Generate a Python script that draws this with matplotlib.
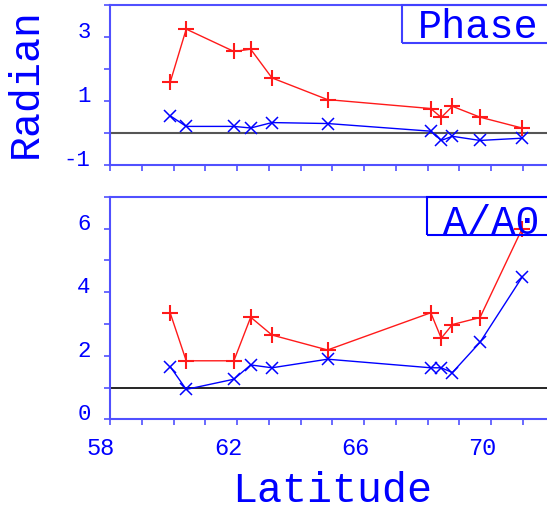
import matplotlib
matplotlib.use("Agg")
import matplotlib.pyplot as plt
import matplotlib.transforms as mtransforms
from matplotlib.patches import Rectangle

# Latitude of each station
latitude = [59.9, 60.4, 61.9, 62.43, 63.1, 64.85, 68.1, 68.43, 68.78, 69.65, 70.97]

# Phase (radian)
phase_red = [1.61, 3.26, 2.56, 2.63, 1.73, 1.05, 0.77, 0.49, 0.84, 0.50, 0.16]
phase_blue = [0.54, 0.21, 0.21, 0.16, 0.33, 0.30, 0.06, -0.23, -0.10, -0.23, -0.16]

# Amplitude ratio A/A0
amp_red = [3.33, 1.84, 1.84, 3.21, 2.65, 2.18, 3.35, 2.55, 2.98, 3.20, 5.98]
amp_blue = [1.65, 0.94, 1.26, 1.71, 1.62, 1.89, 1.62, 1.62, 1.47, 2.42, 4.46]

x_ticks = list(range(58, 72))
x_labels = ["58", "62", "66", "70"]

plt.rcParams["font.family"] = ["Liberation Mono", "DejaVu Sans Mono"]

W, H = 547, 511
fig = plt.figure(figsize=(W / 100, H / 100), dpi=100)

spine_col = "#5050ff"
text_col = "#0000ff"
red = "#ff1a1a"
blue = "#0000ff"


def px(x0, y0, x1, y1):
    # pixel box (top-left origin) -> figure fraction rect
    return [x0 / W, 1 - y1 / H, (x1 - x0) / W, (y1 - y0) / H]


ax1 = fig.add_axes(px(110, 5.5, 547, 165))
ax2 = fig.add_axes(px(110, 196.7, 547, 419.3))


def style(ax, ylo, yhi, ylab):
    ax.set_xlim(58, 71.76)
    ax.set_ylim(ylo, yhi)
    for s in ["left", "bottom", "top"]:
        ax.spines[s].set_color(spine_col)
        ax.spines[s].set_linewidth(1.5)
    ax.spines["right"].set_visible(False)
    ax.set_xticks(x_ticks)
    ax.set_yticks(list(range(ylo, yhi + 1)))
    ax.set_yticklabels([str(v) if v in ylab else "" for v in range(ylo, yhi + 1)])
    ax.tick_params(axis="both", direction="out", length=4, width=1.2,
                   color=spine_col, labelcolor=text_col)
    ax.tick_params(axis="y", labelsize=16, pad=10)
    # labels in the original sit a little above their ticks
    shift = mtransforms.ScaledTranslation(0, 7 / 100, fig.dpi_scale_trans)
    for lab in ax.get_yticklabels():
        lab.set_transform(lab.get_transform() + shift)


style(ax1, -1, 4, [-1, 1, 3])
style(ax2, 0, 7, [0, 2, 4, 6])
ax1.set_xticklabels([])
ax2.set_xticklabels([str(v) if str(v) in x_labels else "" for v in x_ticks])
ax2.tick_params(axis="x", labelsize=17, pad=9)
xshift = mtransforms.ScaledTranslation(-9 / 100, 0, fig.dpi_scale_trans)
for lab in ax2.get_xticklabels():
    lab.set_transform(lab.get_transform() + xshift)

# top panel: phase
ax1.axhline(0, color="#555555", lw=1.5, zorder=1)
ax1.plot(latitude, phase_red, color=red, lw=1, marker="+", ms=12, mew=1.5)
ax1.plot(latitude, phase_blue, color=blue, lw=1, marker="x", ms=9, mew=1.1)

# bottom panel: amplitude ratio
ax2.axhline(1, color="black", lw=1.2, zorder=1)
ax2.plot(latitude, amp_red, color=red, lw=1, marker="+", ms=12, mew=1.5)
ax2.plot(latitude, amp_blue, color=blue, lw=1, marker="x", ms=9, mew=1.1)

# boxed panel titles, running off the right edge
fig.patches.append(Rectangle((401.7 / W, 1 - 43 / H), 0.4, 37.5 / H,
                             transform=fig.transFigure, fill=False,
                             edgecolor="#4040ff", lw=1.5, zorder=5))
fig.text(418 / W, 1 - 27 / H, "Phase", color=text_col, fontsize=29,
         ha="left", va="center")
fig.patches.append(Rectangle((427 / W, 1 - 235 / H), 0.4, 38 / H,
                             transform=fig.transFigure, fill=False,
                             edgecolor="#0000ff", lw=1.5, zorder=5))
fig.text(443 / W, 1 - 223 / H, "A/A0", color=text_col, fontsize=29,
         ha="left", va="center")

fig.text(25.8 / W, 1 - 158 / H, "Radian", color=text_col, fontsize=30,
         rotation=90, ha="center", va="bottom")
fig.text(332.6 / W, 1 - 491 / H, "Latitude", color=text_col, fontsize=30,
         ha="center", va="center")

fig.savefig("out.png", dpi=100)
